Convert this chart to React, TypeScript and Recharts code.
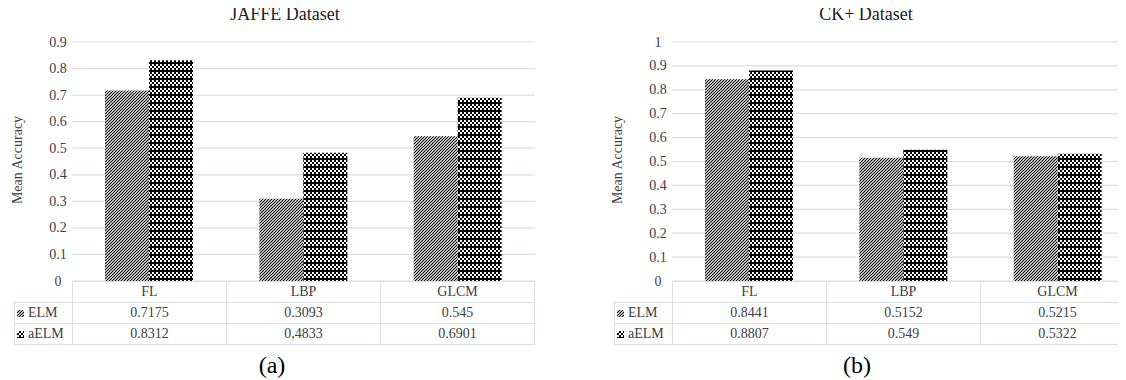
import React from 'react';
import { BarChart, Bar, XAxis, YAxis, CartesianGrid } from 'recharts';

const categories = ['FL', 'LBP', 'GLCM'];
const seriesNames = ['ELM', 'aELM'];

const jaffeElm = [0.7175, 0.3093, 0.545];
const jaffeAelm = [0.8312, 0.4833, 0.6901];
const jaffeElmText = ['0.7175', '0.3093', '0.545'];
const jaffeAelmText = ['0.8312', '0,4833', '0.6901'];
const jaffeTicks = [0, 0.1, 0.2, 0.3, 0.4, 0.5, 0.6, 0.7, 0.8, 0.9];

const ckElm = [0.8441, 0.5152, 0.5215];
const ckAelm = [0.8807, 0.549, 0.5322];
const ckElmText = ['0.8441', '0.5152', '0.5215'];
const ckAelmText = ['0.8807', '0.549', '0.5322'];
const ckTicks = [0, 0.1, 0.2, 0.3, 0.4, 0.5, 0.6, 0.7, 0.8, 0.9, 1];

const FONT = '"Liberation Serif", "Times New Roman", serif';
const GRID = '#d9dee7';
const TEXT = '#404040';

interface PanelProps {
    id: string;
    left: number;
    title: string;
    caption: string;
    elm: number[];
    aelm: number[];
    elmText: string[];
    aelmText: string[];
    ticks: number[];
    titleX: number;
    captionX: number;
}

// 2px checker with a black band every third row, like Excel's dotted grid fill
const checker = [
    [0, 0], [0, 1], [2, 2], [2, 3], [0, 4], [0, 5],
];

const Patterns = ({ id }: { id: string }) => (
    <defs>
        <pattern id={`${id}-elm`} patternUnits="userSpaceOnUse" width={3} height={3}>
            <rect width={3} height={3} fill="#fff" />
            <path d="M-1,1 l2,-2 M0,3 l3,-3 M2,4 l2,-2" stroke="#000" strokeWidth={1.05} />
        </pattern>
        <pattern id={`${id}-aelm`} patternUnits="userSpaceOnUse" width={4} height={8}>
            <rect width={4} height={8} fill="#000" />
            {checker.map(([x, y]) => (
                <rect key={`${x}-${y}`} x={x} y={y} width={2} height={1} fill="#fff" />
            ))}
        </pattern>
    </defs>
);

const Panel: React.FC<PanelProps> = ({ id, left, title, caption, elm, aelm, elmText, aelmText, ticks, titleX, captionX }) => {
    const data = categories.map((c, i) => ({ cat: c, elm: elm[i], aelm: aelm[i] }));
    const cell: React.CSSProperties = { border: `1px solid ${GRID}`, padding: 0, textAlign: 'center', height: 20, fontFamily: FONT };
    const legendCell: React.CSSProperties = { ...cell, textAlign: 'left', paddingLeft: 2, whiteSpace: 'nowrap' };

    return (
        <div style={{ position: 'absolute', left, top: 0, width: 560, height: 380 }}>
            <div style={{ position: 'absolute', left: 0, top: 0 }}>
                <BarChart
                    width={560}
                    height={290}
                    data={data}
                    margin={{ top: 42, right: 25, left: 14, bottom: 9 }}
                    barGap={0}
                    barSize={44}
                >
                    <Patterns id={id} />
                    <CartesianGrid vertical={false} stroke={GRID} strokeWidth={1.2} />
                    <XAxis dataKey="cat" hide height={0} />
                    <YAxis
                        width={58}
                        domain={[0, ticks[ticks.length - 1]]}
                        ticks={ticks}
                        interval={0}
                        axisLine={false}
                        tickLine={false}
                        tick={(p: any) => (
                            <text
                                x={58}
                                y={p.y}
                                textAnchor="middle"
                                dominantBaseline="central"
                                style={{ fontFamily: FONT }}
                                fontSize={14}
                                fill={TEXT}
                            >
                                {String(p.payload.value)}
                            </text>
                        )}
                    />
                    <Bar dataKey="elm" fill={`url(#${id}-elm)`} isAnimationActive={false} />
                    <Bar dataKey="aelm" fill={`url(#${id}-aelm)`} isAnimationActive={false} />
                </BarChart>
            </div>

            <svg width={560} height={380} style={{ position: 'absolute', left: 0, top: 0, pointerEvents: 'none', fontFamily: FONT }}>
                <text x={titleX} y={20} textAnchor="middle" fontSize={18} fill="#222">
                    {title}
                </text>
                <text
                    x={17}
                    y={160}
                    transform="rotate(-90 17 160)"
                    textAnchor="middle"
                    dominantBaseline="central"
                    fontSize={14}
                    fill={TEXT}
                >
                    Mean Accuracy
                </text>
                <text x={captionX} y={373} textAnchor="middle" fontSize={24} fill="#000">
                    {caption}
                </text>
            </svg>

            <table
                style={{
                    position: 'absolute',
                    left: 14,
                    top: 281,
                    width: 521,
                    borderCollapse: 'collapse',
                    tableLayout: 'fixed',
                    fontFamily: FONT,
                    fontSize: 14,
                    color: TEXT,
                    lineHeight: '20px',
                }}
            >
                <colgroup>
                    <col style={{ width: 58 }} />
                    <col />
                    <col />
                    <col />
                </colgroup>
                <tbody>
                    <tr>
                        <td style={{ border: 'none', padding: 0 }} />
                        {categories.map((c) => (
                            <td key={c} style={cell}>{c}</td>
                        ))}
                    </tr>
                    {[elmText, aelmText].map((row, r) => (
                        <tr key={seriesNames[r]}>
                            <td style={legendCell}>
                                <svg width={7} height={7} style={{ marginRight: 4, verticalAlign: 'middle' }}>
                                    <rect width={7} height={7} fill={`url(#${id}-${r === 0 ? 'elm' : 'aelm'})`} />
                                </svg>
                                {seriesNames[r]}
                            </td>
                            {row.map((v, i) => (
                                <td key={i} style={cell}>{v}</td>
                            ))}
                        </tr>
                    ))}
                </tbody>
            </table>
        </div>
    );
};

export default function App() {
    return (
        <div
            style={{
                position: 'relative',
                width: 1126,
                height: 380,
                marginLeft: -8,
                marginTop: -8,
                overflow: 'hidden',
                background: '#fff',
            }}
        >
            <Panel
                id="jaffe"
                left={0}
                title="JAFFE Dataset"
                caption="(a)"
                elm={jaffeElm}
                aelm={jaffeAelm}
                elmText={jaffeElmText}
                aelmText={jaffeAelmText}
                ticks={jaffeTicks}
                titleX={285}
                captionX={272}
            />
            <Panel
                id="ck"
                left={600}
                title="CK+ Dataset"
                caption="(b)"
                elm={ckElm}
                aelm={ckAelm}
                elmText={ckElmText}
                aelmText={ckAelmText}
                ticks={ckTicks}
                titleX={266}
                captionX={257}
            />
        </div>
    );
}
